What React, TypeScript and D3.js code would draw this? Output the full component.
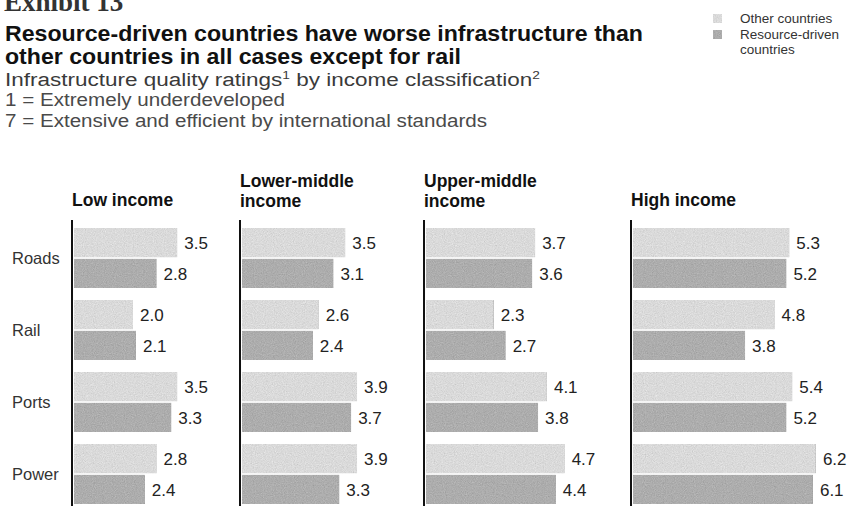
import React from "react";
import * as d3 from "d3";

// ---------- data ----------
const categories = ["Roads", "Rail", "Ports", "Power"];
const seriesNames = ["Other countries", "Resource-driven countries"];
const incomeGroups = ["Low income", "Lower-middle income", "Upper-middle income", "High income"];
const incomeHeaderLines = [["Low income"], ["Lower-middle", "income"], ["Upper-middle", "income"], ["High income"]];
const otherValues = [
  [3.5, 2.0, 3.5, 2.8],
  [3.5, 2.6, 3.9, 3.9],
  [3.7, 2.3, 4.1, 4.7],
  [5.3, 4.8, 5.4, 6.2],
];
const resourceValues = [
  [2.8, 2.1, 3.3, 2.4],
  [3.1, 2.4, 3.7, 3.3],
  [3.6, 2.7, 3.8, 4.4],
  [5.2, 3.8, 5.2, 6.1],
];
const titleLines = [
  "Resource-driven countries have worse infrastructure than",
  "other countries in all cases except for rail",
];
const subtitleText = "Infrastructure quality ratings";
const noteLines = ["1 = Extremely underdeveloped", "7 = Extensive and efficient by international standards"];
const legendLines = [["Other countries"], ["Resource-driven", "countries"]];

// ---------- layout ----------
const W = 857;
const H = 506;
const FONT = "'Liberation Sans', Arial, Helvetica, sans-serif";
const panelX = [72, 240, 424, 631];
const colors = ["#dadada", "#adadad"];

const x = d3.scaleLinear().domain([0, 7]).range([0, 206.5]);
const yGroup = d3.scaleBand<string>().domain(categories).range([228, 504]).paddingInner(1 / 6).paddingOuter(0).align(0);
const ySeries = d3.scaleBand<string>().domain(seriesNames).range([0, yGroup.bandwidth()]).paddingInner(0.05);

export default function App() {
  const series = [otherValues, resourceValues];
  return (
    <svg width={W} height={H} style={{ position: "absolute", left: 0, top: 0, background: "#fff" }} fontFamily={FONT}>
      <defs>
        <filter id="grain" x="0" y="0" width="100%" height="100%" colorInterpolationFilters="sRGB">
          <feTurbulence type="fractalNoise" baseFrequency="0.9" numOctaves="2" seed="7" result="noise" />
          <feColorMatrix in="noise" type="matrix"
            values="0.33 0.33 0.33 0 0  0.33 0.33 0.33 0 0  0.33 0.33 0.33 0 0  0 0 0 0 1" result="gray" />
          <feComposite in="SourceGraphic" in2="gray" operator="arithmetic" k1="0" k2="1" k3="0.28" k4="-0.14" result="mix" />
          <feComposite in="mix" in2="SourceGraphic" operator="in" />
        </filter>
      </defs>

      {/* Exhibit label (cut off at top, as in the source) */}
      <text x={4} y={11} fontFamily="'Liberation Serif', 'Times New Roman', serif" fontWeight="bold" fontSize={27} fill="#333">
        Exhibit 13
      </text>

      {/* Title */}
      {titleLines.map((t, i) => (
        <text key={t} x={5} y={41 + i * 23} fontSize={21.5} fontWeight="bold" fill="#111"
          textLength={i === 0 ? 638 : 456} lengthAdjust="spacingAndGlyphs">
          {t}
        </text>
      ))}

      {/* Subtitle */}
      <text x={5} y={86} fontSize={18} fill="#3a3a3a" textLength={535} lengthAdjust="spacingAndGlyphs">
        {subtitleText}
        <tspan fontSize={11} dy={-7}>1</tspan>
        <tspan dy={7}> by income classification</tspan>
        <tspan fontSize={11} dy={-7}>2</tspan>
      </text>
      {noteLines.map((t, i) => (
        <text key={t} x={5} y={106 + i * 21} fontSize={17.5} fill="#4a4a4a"
          textLength={i === 0 ? 280 : 482} lengthAdjust="spacingAndGlyphs">
          {t}
        </text>
      ))}

      {/* Legend */}
      {legendLines.map((lines, i) => (
        <g key={i}>
          <rect x={713} y={14 + i * 16} width={9} height={9} fill={colors[i]} filter="url(#grain)" />
          {lines.map((l, j) => (
            <text key={l} x={740} y={23 + i * 16 + j * 15} fontSize={13.5} fill="#333">
              {l}
            </text>
          ))}
        </g>
      ))}

      {/* Category labels */}
      {categories.map((c) => (
        <text key={c} x={12} y={(yGroup(c) ?? 0) + yGroup.bandwidth() / 2} dy="0.35em" fontSize={16.5} fill="#333">
          {c}
        </text>
      ))}

      {/* Panels */}
      {incomeGroups.map((g, p) => {
        const px = panelX[p];
        const hdr = incomeHeaderLines[p];
        return (
          <g key={g}>
            {hdr.map((l, j) => (
              <text key={l} x={px} y={hdr.length === 1 ? 206 : 187 + j * 20} fontSize={17.5} fontWeight="bold" fill="#111">
                {l}
              </text>
            ))}
            {categories.map((c, ci) =>
              seriesNames.map((s, si) => {
                const v = series[si][p][ci];
                const y0 = (yGroup(c) ?? 0) + (ySeries(s) ?? 0);
                const bw = x(v);
                return (
                  <g key={c + s}>
                    <rect x={px + 2} y={y0} width={bw} height={ySeries.bandwidth()} fill={colors[si]} filter="url(#grain)" />
                    <text x={px + 2 + bw + 7} y={y0 + ySeries.bandwidth() / 2} dy="0.36em" fontSize={17} fill="#222">
                      {v.toFixed(1)}
                    </text>
                  </g>
                );
              })
            )}
            <line x1={px} x2={px} y1={220} y2={H} stroke="#111" strokeWidth={2} />
          </g>
        );
      })}
    </svg>
  );
}
